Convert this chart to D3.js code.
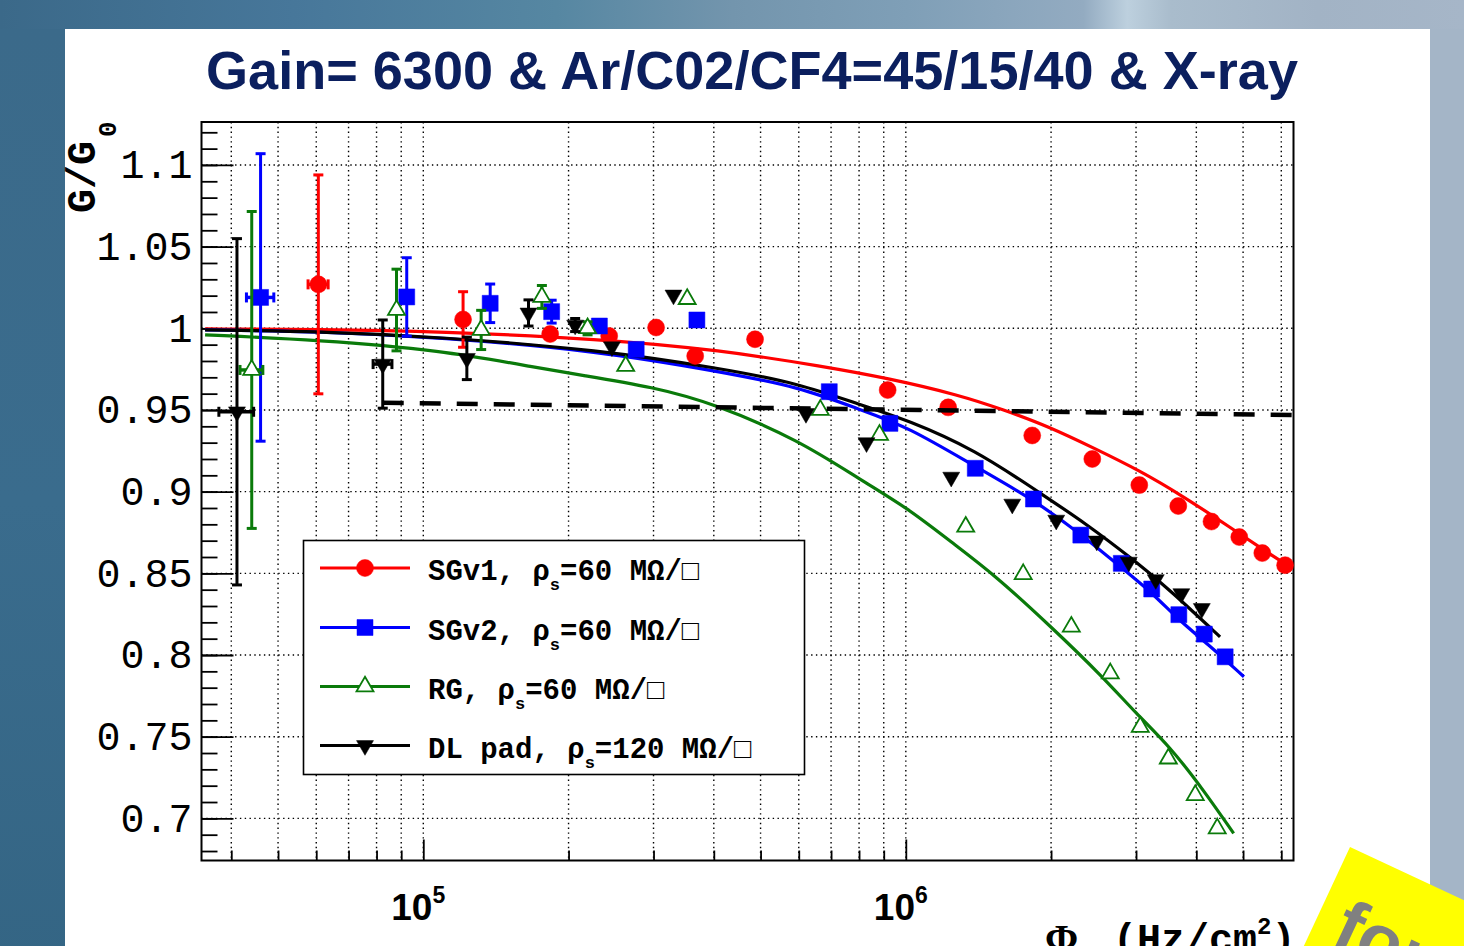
<!DOCTYPE html>
<html>
<head>
<meta charset="utf-8">
<script src="https://cdn.jsdelivr.net/npm/d3@7"></script>
<style>
  html, body { margin: 0; padding: 0; overflow: hidden; background: #fff; }
</style>
</head>
<body>
<div id="chart"></div>
<script>
// ---- data: rate (Hz/cm2), G/G0, error ----
const sgv1Rate = [6.06e4, 1.209e5, 1.832e5, 2.428e5, 3.037e5, 3.66e5, 4.87e5, 9.17e5, 1.224e6, 1.828e6, 2.435e6, 3.047e6, 3.67e6, 4.3e6, 4.91e6, 5.48e6, 6.11e6];
const sgv1Gain = [1.0269, 1.0054, 0.9965, 0.9953, 1.0005, 0.983, 0.9933, 0.9622, 0.9516, 0.9344, 0.92, 0.904, 0.8912, 0.8817, 0.8722, 0.8624, 0.855];
const sgv1Err  = [0.067, 0.017, 0, 0, 0, 0, 0, 0, 0, 0, 0, 0, 0, 0, 0, 0, 0];
const sgv1RateErr = [2.9e3, 0, 0, 0, 0, 0, 0, 0, 0, 0, 0, 0, 0, 0, 0, 0, 0];

const sgv2Rate = [4.6e4, 9.24e4, 1.376e5, 1.845e5, 2.317e5, 2.762e5, 3.69e5, 6.94e5, 9.27e5, 1.393e6, 1.839e6, 2.305e6, 2.796e6, 3.233e6, 3.68e6, 4.155e6, 4.59e6];
const sgv2Gain = [1.0189, 1.0192, 1.0153, 1.0102, 1.0014, 0.9871, 1.0051, 0.9612, 0.9418, 0.9143, 0.8955, 0.8734, 0.8561, 0.8404, 0.8247, 0.8128, 0.7989];
const sgv2Err  = [0.088, 0.024, 0.0118, 0.007, 0, 0, 0, 0, 0, 0, 0, 0, 0, 0, 0, 0, 0];
const sgv2RateErr = [3.0e3, 0, 0, 0, 0, 0, 0, 0, 0, 0, 0, 0, 0, 0, 0, 0, 0];

const rgRate = [4.41e4, 8.8e4, 1.318e5, 1.761e5, 2.19e5, 2.627e5, 3.523e5, 6.65e5, 8.82e5, 1.331e6, 1.751e6, 2.203e6, 2.653e6, 3.061e6, 3.5e6, 3.98e6, 4.42e6];
const rgGain = [0.9745, 1.0112, 0.999, 1.0192, 1.0, 0.9769, 1.0179, 0.95, 0.9347, 0.8785, 0.8495, 0.8173, 0.7887, 0.756, 0.7366, 0.7142, 0.6938];
const rgErr  = [0.097, 0.025, 0.012, 0.007, 0.004, 0, 0, 0, 0, 0, 0, 0, 0, 0, 0, 0, 0];
const rgRateErr = [2.4e3, 0, 0, 0, 0, 0, 0, 0, 0, 0, 0, 0, 0, 0, 0, 0, 0];

const dlRate = [4.11e4, 8.24e4, 1.231e5, 1.652e5, 2.064e5, 2.46e5, 3.3e5, 6.21e5, 8.29e5, 1.242e6, 1.662e6, 2.05e6, 2.487e6, 2.898e6, 3.296e6, 3.724e6, 4.106e6];
const dlGain = [0.9489, 0.9781, 0.9816, 1.0094, 1.002, 0.9887, 1.0204, 0.9479, 0.93, 0.9089, 0.8924, 0.8826, 0.8698, 0.8569, 0.8462, 0.8376, 0.8285];
const dlErr  = [0.106, 0.027, 0.013, 0.008, 0.004, 0, 0, 0, 0, 0, 0, 0, 0, 0, 0, 0, 0];
const dlRateErr = [3.4e3, 3.7e3, 0, 0, 0, 0, 0, 0, 0, 0, 0, 0, 0, 0, 0, 0, 0];

// fitted curves
const sgv1FitRate = [3.53e4, 6.1e4, 1.08e5, 2.33e5, 4.12e5, 6.8e5, 9.2e5, 1.29e6, 1.6e6, 1.98e6, 2.46e6, 3.04e6, 3.77e6, 4.68e6, 5.79e6, 6.3e6];
const sgv1FitGain = [0.9996, 0.9994, 0.998, 0.9935, 0.9867, 0.9765, 0.9694, 0.9592, 0.95, 0.9398, 0.9265, 0.9132, 0.8969, 0.8785, 0.8601, 0.8535];
const sgv2FitRate = [3.53e4, 6.1e4, 1.08e5, 2.33e5, 4.12e5, 6.0e5, 8.07e5, 1.01e6, 1.393e6, 1.839e6, 2.32e6, 2.81e6, 3.25e6, 3.68e6, 4.21e6, 5.02e6];
const sgv2FitGain = [0.999, 0.998, 0.9945, 0.986, 0.9734, 0.9642, 0.95, 0.9397, 0.9153, 0.8952, 0.8734, 0.853, 0.8377, 0.8214, 0.8071, 0.7867];
const rgFitRate = [3.53e4, 6.1e4, 1.08e5, 1.75e5, 2.11e5, 3.0e5, 4.0e5, 6.0e5, 8.07e5, 1.01e6, 1.24e6, 1.53e6, 2.0e6, 2.56e6, 3.0e6, 3.53e6, 4.14e6, 4.78e6];
const rgFitGain = [0.996, 0.9928, 0.9867, 0.9755, 0.9715, 0.964, 0.954, 0.9316, 0.9071, 0.8898, 0.8693, 0.8489, 0.8173, 0.7867, 0.7642, 0.7438, 0.7173, 0.6908];
const dlFitRate = [3.53e4, 6.1e4, 1.08e5, 2.33e5, 4.12e5, 6.0e5, 8.07e5, 1.01e6, 1.393e6, 1.857e6, 2.36e6, 3.0e6, 3.53e6, 4.48e6];
const dlFitGain = [0.999, 0.998, 0.9947, 0.9867, 0.9755, 0.9663, 0.953, 0.9438, 0.9255, 0.901, 0.8806, 0.8571, 0.8397, 0.8111];

// 5% reference (dashed)
const refRate = [8.24e4, 6.36e6];
const refGain = [0.9544, 0.9469];

const xDomain = [3.47e4, 6.36e6];
const yDomain = [0.6742, 1.1263];
const yMajorTicks = [0.7, 0.75, 0.8, 0.85, 0.9, 0.95, 1.0, 1.05, 1.1];
const xLabelTicks = [{v: 1e5, exp: "5"}, {v: 1e6, exp: "6"}];

const legendRows = [
  {pre: "SGv1, ρ", post: "=60 MΩ/□"},
  {pre: "SGv2, ρ", post: "=60 MΩ/□"},
  {pre: "RG, ρ", post: "=60 MΩ/□"},
  {pre: "DL pad, ρ", post: "=120 MΩ/□"}
];

// ---- layout ----
const W = 1464, H = 946;
const frame = {left: 201.5, right: 1293.5, top: 122, bottom: 860.5};
const mono = "'Liberation Mono', 'DejaVu Sans Mono', monospace";

const svg = d3.select("#chart").append("svg")
    .attr("width", W)
    .attr("height", H);

// Slide background
const defs = svg.append("defs");
const topGrad = defs.append("linearGradient").attr("id", "topGrad");
[[0, "#3b6989"], [0.2, "#47779a"], [0.38, "#5687a2"], [0.5, "#7395ad"], [0.62, "#7f9fb7"], [0.74, "#93abc1"],
 [0.77, "#bdd0de"], [0.8, "#a9bccc"], [0.9, "#a2b3c5"], [1, "#a6b6c8"]]
  .forEach(([o, c]) => topGrad.append("stop").attr("offset", o).attr("stop-color", c));
const leftGrad = defs.append("linearGradient").attr("id", "leftGrad")
    .attr("x1", 0).attr("y1", 0).attr("x2", 0).attr("y2", 1);
[[0, "#3b6a8a"], [0.5, "#3a6c8d"], [1, "#346584"]]
  .forEach(([o, c]) => leftGrad.append("stop").attr("offset", o).attr("stop-color", c));

svg.append("rect").attr("width", W).attr("height", H).attr("fill", "url(#topGrad)");
svg.append("rect").attr("x", 0).attr("y", 29).attr("width", 65).attr("height", H).attr("fill", "url(#leftGrad)");
svg.append("rect").attr("x", 1430).attr("y", 29).attr("width", 34).attr("height", H).attr("fill", "#a4b5c7");
svg.append("rect").attr("x", 65).attr("y", 29).attr("width", 1365).attr("height", H).attr("fill", "#fff");

// Title
svg.append("text")
    .attr("x", 206)
    .attr("y", 89)
    .attr("textLength", 1092)
    .attr("lengthAdjust", "spacingAndGlyphs")
    .style("font-family", "'Liberation Sans Narrow', 'Liberation Sans', sans-serif")
    .style("font-weight", "bold")
    .style("font-size", "54px")
    .style("fill", "#0b1f5e")
    .text("Gain= 6300 & Ar/C02/CF4=45/15/40 & X-ray");

// Scales
const x = d3.scaleLog().domain(xDomain).range([frame.left, frame.right]);
const y = d3.scaleLinear().domain(yDomain).range([frame.bottom, frame.top]);

// x tick values: every 1..9 x 10^k inside the domain
const xMinor = [];
for (let k = 4; k <= 6; k++) {
  for (let m = 1; m <= 9; m++) {
    const v = m * Math.pow(10, k);
    if (v > xDomain[0] && v < xDomain[1]) xMinor.push(v);
  }
}
const yMinor = d3.range(68, 113).map(d => d / 100).filter(v => v > yDomain[0] && v < yDomain[1]);

// Grid (dotted)
const grid = svg.append("g").attr("class", "grid")
    .style("stroke", "#000").style("stroke-width", 1.4).style("stroke-dasharray", "1.4,3.4");
grid.selectAll("line.vx").data(xMinor).enter().append("line")
    .attr("x1", d => x(d)).attr("x2", d => x(d))
    .attr("y1", frame.top).attr("y2", frame.bottom);
grid.selectAll("line.hy").data(yMajorTicks).enter().append("line")
    .attr("y1", d => y(d)).attr("y2", d => y(d))
    .attr("x1", frame.left).attr("x2", frame.right);

// Axes (ticks drawn inwards, ROOT style)
const axisY = svg.append("g").attr("transform", `translate(${frame.left},0)`);
axisY.call(d3.axisLeft(y).tickValues(yMinor).tickSize(-16).tickFormat(""));
axisY.call(g => g.select(".domain").remove());
const axisYMaj = svg.append("g").attr("transform", `translate(${frame.left},0)`);
axisYMaj.call(d3.axisLeft(y).tickValues(yMajorTicks).tickSize(-32).tickPadding(9)
    .tickFormat(d => String(+d.toFixed(2))));
axisYMaj.select(".domain").remove();
axisYMaj.selectAll("text")
    .style("font-family", mono)
    .style("font-size", "40px")
    .style("fill", "#000");

const axisX = svg.append("g").attr("transform", `translate(0,${frame.bottom})`);
axisX.call(d3.axisBottom(x).tickValues(xMinor.filter(v => ![1e5, 1e6].includes(v))).tickSize(-10).tickFormat(""));
axisX.select(".domain").remove();
const axisXMaj = svg.append("g").attr("transform", `translate(0,${frame.bottom})`);
axisXMaj.call(d3.axisBottom(x).tickValues(xLabelTicks.map(d => d.v)).tickSize(-21).tickFormat(""));
axisXMaj.select(".domain").remove();
svg.selectAll(".tick line").style("stroke", "#000").style("stroke-width", 1.8);

// x tick labels 10^n
xLabelTicks.forEach(t => {
  const lbl = svg.append("text")
      .attr("x", x(t.v) - 32)
      .attr("y", 920)
      .style("font-family", "'Liberation Sans', sans-serif")
      .style("font-weight", "bold")
      .style("font-size", "37px")
      .style("fill", "#000");
  lbl.append("tspan").text("10");
  lbl.append("tspan").attr("dy", -17).style("font-size", "23px").text(t.exp);
});

// Frame
svg.append("rect")
    .attr("x", frame.left).attr("y", frame.top)
    .attr("width", frame.right - frame.left).attr("height", frame.bottom - frame.top)
    .attr("fill", "none").attr("stroke", "#000").attr("stroke-width", 2);

// Axis titles
const yTitle = svg.append("text")
    .attr("transform", `translate(95,213) rotate(-90)`)
    .style("font-family", mono)
    .style("font-weight", "bold")
    .style("font-size", "40px")
    .style("fill", "#000");
yTitle.append("tspan").text("G/G");
yTitle.append("tspan").attr("dx", 4).attr("dy", 21).style("font-size", "26px").text("0");

const xTitle = svg.append("text")
    .attr("x", 1045)
    .attr("y", 952)
    .style("font-weight", "bold")
    .style("font-size", "40px")
    .style("fill", "#000");
xTitle.append("tspan").style("font-family", "'Liberation Serif', serif").text("Φ");
xTitle.append("tspan").attr("x", 1113).style("font-family", mono).text("(Hz/cm");
xTitle.append("tspan").attr("dy", -18).style("font-family", mono).style("font-size", "24px").text("2");
xTitle.append("tspan").attr("dy", 18).style("font-family", mono).text(")");

// Series
const series = [
  {name: "SGv1", color: "#ff0000", rate: sgv1Rate, gain: sgv1Gain, err: sgv1Err, xerr: sgv1RateErr,
   fitR: sgv1FitRate, fitG: sgv1FitGain, symbol: d3.symbolCircle, size: 227, filled: true, rot: 0},
  {name: "SGv2", color: "#0000ff", rate: sgv2Rate, gain: sgv2Gain, err: sgv2Err, xerr: sgv2RateErr,
   fitR: sgv2FitRate, fitG: sgv2FitGain, symbol: d3.symbolSquare, size: 256, filled: true, rot: 0},
  {name: "RG", color: "#0a7a0a", rate: rgRate, gain: rgGain, err: rgErr, xerr: rgRateErr,
   fitR: rgFitRate, fitG: rgFitGain, symbol: d3.symbolTriangle, size: 125, filled: false, rot: 0},
  {name: "DL", color: "#000000", rate: dlRate, gain: dlGain, err: dlErr, xerr: dlRateErr,
   fitR: dlFitRate, fitG: dlFitGain, symbol: d3.symbolTriangle, size: 125, filled: true, rot: 180}
];

const plot = svg.append("g");
const line = d3.line().x(d => x(d[0])).y(d => y(d[1])).curve(d3.curveBasis);

// fitted curves
series.forEach(s => {
  plot.append("path")
      .datum(d3.zip(s.fitR, s.fitG))
      .attr("fill", "none")
      .attr("stroke", s.color)
      .attr("stroke-width", 3.2)
      .attr("d", line);
});

// error bars + markers
series.forEach(s => {
  const pts = d3.zip(s.rate, s.gain, s.err, s.xerr);
  const g = plot.append("g").attr("class", "pts-" + s.name);
  const eb = pts.filter(p => p[2] > 0);
  g.selectAll("line.eb").data(eb).enter().append("line")
      .attr("x1", p => x(p[0])).attr("x2", p => x(p[0]))
      .attr("y1", p => y(p[1] - p[2])).attr("y2", p => y(p[1] + p[2]))
      .attr("stroke", s.color).attr("stroke-width", 3);
  ["lo", "hi"].forEach(side => {
    g.selectAll("line.cap" + side).data(eb).enter().append("line")
        .attr("x1", p => x(p[0]) - 5).attr("x2", p => x(p[0]) + 5)
        .attr("y1", p => y(side === "lo" ? p[1] - p[2] : p[1] + p[2]))
        .attr("y2", p => y(side === "lo" ? p[1] - p[2] : p[1] + p[2]))
        .attr("stroke", s.color).attr("stroke-width", 3);
  });
  // horizontal error bars
  const xb = pts.filter(p => p[3] > 0);
  g.selectAll("line.xb").data(xb).enter().append("line")
      .attr("x1", p => x(p[0] - p[3])).attr("x2", p => x(p[0] + p[3]))
      .attr("y1", p => y(p[1])).attr("y2", p => y(p[1]))
      .attr("stroke", s.color).attr("stroke-width", 3.5);
  ["lo", "hi"].forEach(side => {
    g.selectAll("line.xcap" + side).data(xb).enter().append("line")
        .attr("x1", p => x(side === "lo" ? p[0] - p[3] : p[0] + p[3]))
        .attr("x2", p => x(side === "lo" ? p[0] - p[3] : p[0] + p[3]))
        .attr("y1", p => y(p[1]) - 5).attr("y2", p => y(p[1]) + 5)
        .attr("stroke", s.color).attr("stroke-width", 3);
  });
  g.selectAll("path.mk").data(pts).enter().append("path")
      .attr("transform", p => `translate(${x(p[0])},${y(p[1])}) rotate(${s.rot})`)
      .attr("d", d3.symbol().type(s.symbol).size(s.size))
      .attr("fill", s.filled ? s.color : "#fff")
      .attr("stroke", s.color)
      .attr("stroke-width", s.filled ? 0.5 : 1.8);
});

// dashed 5% line
plot.append("path")
    .datum(d3.zip(refRate, refGain))
    .attr("fill", "none")
    .attr("stroke", "#000")
    .attr("stroke-width", 4.5)
    .attr("stroke-dasharray", "21,16")
    .attr("d", d3.line().x(d => x(d[0])).y(d => y(d[1])));

// Legend
const legend = svg.append("g");
legend.append("rect")
    .attr("x", 303.5).attr("y", 540.5).attr("width", 501).attr("height", 234)
    .attr("fill", "#fff").attr("stroke", "#000").attr("stroke-width", 1.6);
const rowY = [568, 627.5, 686.5, 745.5];
series.forEach((s, i) => {
  legend.append("line")
      .attr("x1", 320).attr("x2", 410).attr("y1", rowY[i]).attr("y2", rowY[i])
      .attr("stroke", s.color).attr("stroke-width", 3.2);
  legend.append("path")
      .attr("transform", `translate(365,${rowY[i]}) rotate(${s.rot})`)
      .attr("d", d3.symbol().type(s.symbol).size(s.size))
      .attr("fill", s.filled ? s.color : "#fff")
      .attr("stroke", s.color)
      .attr("stroke-width", s.filled ? 0.5 : 1.8);
  const t = legend.append("text")
      .attr("x", 428).attr("y", rowY[i] + 12)
      .style("font-family", mono)
      .style("font-weight", "bold")
      .style("font-size", "29px")
      .style("fill", "#000");
  t.append("tspan").text(legendRows[i].pre);
  t.append("tspan").attr("dy", 10).style("font-size", "17px").text("s");
  t.append("tspan").attr("dy", -10).text(legendRows[i].post);
});

// Yellow sticker in the corner
const sticker = svg.append("g").attr("transform", "translate(1350,847) rotate(25)");
sticker.append("rect").attr("width", 320).attr("height", 320).attr("fill", "#ffff00");
sticker.append("text")
    .attr("x", 22).attr("y", 96)
    .style("font-family", "'Liberation Sans', sans-serif")
    .style("font-weight", "bold")
    .style("font-size", "72px")
    .style("fill", "#808080")
    .text("for");
</script>
</body>
</html>
